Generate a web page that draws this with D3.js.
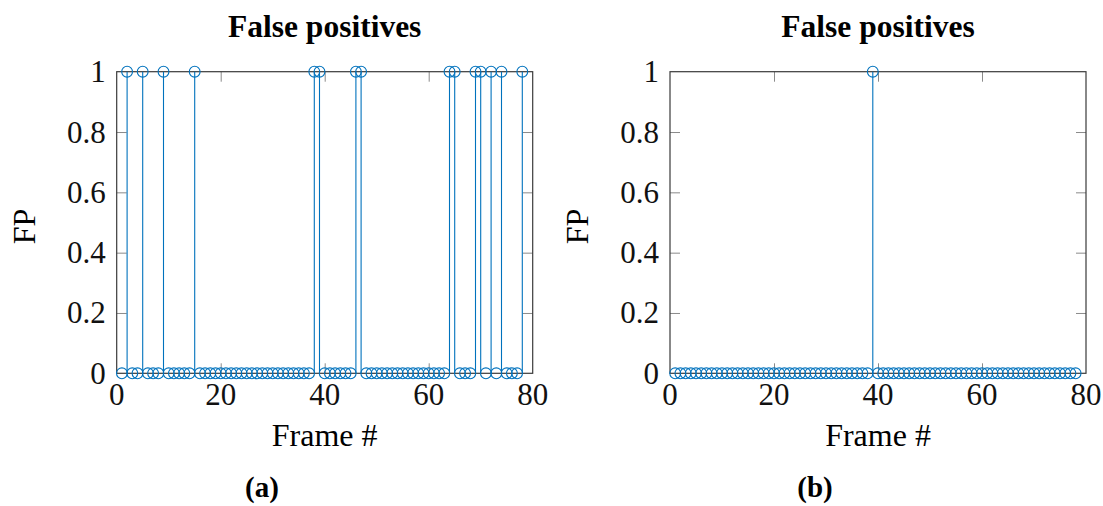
<!DOCTYPE html>
<html>
<head>
<meta charset="utf-8">
<script src="https://cdn.jsdelivr.net/npm/d3@7"></script>
<style>
  body { margin: 0; background: #fff; }
  svg { display: block; }
</style>
</head>
<body>
<script>
// false positive flag per frame, frame number = index + 1
var fpA = [0,1,0,0,1,0,0,0,1,0,
           0,0,0,0,1,0,0,0,0,0,
           0,0,0,0,0,0,0,0,0,0,
           0,0,0,0,0,0,0,1,1,0,
           0,0,0,0,0,1,1,0,0,0,
           0,0,0,0,0,0,0,0,0,0,
           0,0,0,1,1,0,0,0,1,1,
           0,1,0,1,0,0,0,1];
var fpB = [0,0,0,0,0,0,0,0,0,0,
           0,0,0,0,0,0,0,0,0,0,
           0,0,0,0,0,0,0,0,0,0,
           0,0,0,0,0,0,0,0,1,0,
           0,0,0,0,0,0,0,0,0,0,
           0,0,0,0,0,0,0,0,0,0,
           0,0,0,0,0,0,0,0,0,0,
           0,0,0,0,0,0,0,0];
var xTicks = [0, 20, 40, 60, 80];
var yTicks = [0, 0.2, 0.4, 0.6, 0.8, 1];
var yTickLabels = ["0", "0.2", "0.4", "0.6", "0.8", "1"];
var titles = ["False positives", "False positives"];
var captions = ["(a)", "(b)"];

var W = 1103, H = 506;
var svg = d3.select("body").append("svg").attr("width", W).attr("height", H);

var serif = "'Liberation Serif', 'Times New Roman', serif";
var blue = "#0072BD";

function StemChart(opt) {
    this.data = opt.data;
    this.x0 = opt.x0; this.x1 = opt.x1;
    this.y0 = opt.y0; this.y1 = opt.y1;
    this.title = opt.title;
    this.caption = opt.caption;
    this.capX = opt.capX;
    this.g = svg.append("g");
}

StemChart.prototype.chart = function () {
    var g = this.g;
    var x = d3.scaleLinear().domain([0, 80]).range([this.x0, this.x1]);
    var y = d3.scaleLinear().domain([0, 1]).range([this.y1, this.y0]);
    var tl = 10;

    // inward ticks on all four sides
    var axes = [
        { ax: d3.axisBottom(x).tickValues(xTicks.slice(1, -1)).tickSize(tl).tickFormat(""), t: "translate(0," + this.y1 + ")" },
        { ax: d3.axisTop(x).tickValues(xTicks.slice(1, -1)).tickSize(tl).tickFormat(""), t: "translate(0," + this.y0 + ")" },
        { ax: d3.axisLeft(y).tickValues(yTicks.slice(1, -1)).tickSize(tl).tickFormat(""), t: "translate(" + this.x0 + ",0)" },
        { ax: d3.axisRight(y).tickValues(yTicks.slice(1, -1)).tickSize(tl).tickFormat(""), t: "translate(" + this.x1 + ",0)" }
    ];
    axes.forEach(function (a) {
        var ag = g.append("g").attr("transform", a.t).call(a.ax);
        ag.select(".domain").remove();
        ag.selectAll(".tick line").attr("stroke", "#8a8a8a").attr("stroke-width", 1)
            .each(function () {
                var l = d3.select(this);
                if (l.attr("y2") != null && +l.attr("y2") !== 0) l.attr("y2", -l.attr("y2"));
                if (l.attr("x2") != null && +l.attr("x2") !== 0) l.attr("x2", -l.attr("x2"));
            });
    });

    // box
    g.append("rect")
        .attr("x", this.x0).attr("y", this.y0)
        .attr("width", this.x1 - this.x0).attr("height", this.y1 - this.y0)
        .attr("fill", "none").attr("stroke", "#3a3a3a").attr("stroke-width", 1.2);

    // tick labels
    g.selectAll(".xl").data(xTicks).enter().append("text")
        .attr("class", "xl")
        .attr("x", function (d) { return x(d); })
        .attr("y", this.y1 + 32)
        .attr("text-anchor", "middle")
        .style("font-family", serif).style("font-size", "31px").attr("fill", "#111")
        .text(function (d) { return d; });

    var x0 = this.x0;
    g.selectAll(".yl").data(yTicks).enter().append("text")
        .attr("class", "yl")
        .attr("x", x0 - 11)
        .attr("y", function (d) { return y(d) + 10.5; })
        .attr("text-anchor", "end")
        .style("font-family", serif).style("font-size", "31px").attr("fill", "#111")
        .text(function (d, i) { return yTickLabels[i]; });

    // stems
    var pts = this.data.map(function (v, i) { return { f: i + 1, v: v }; });
    g.selectAll(".stem").data(pts.filter(function (d) { return d.v !== 0; })).enter().append("line")
        .attr("class", "stem")
        .attr("x1", function (d) { return x(d.f); }).attr("x2", function (d) { return x(d.f); })
        .attr("y1", y(0)).attr("y2", function (d) { return y(d.v); })
        .attr("stroke", blue).attr("stroke-width", 1.1);

    g.selectAll(".mark").data(pts).enter().append("circle")
        .attr("class", "mark")
        .attr("cx", function (d) { return x(d.f); })
        .attr("cy", function (d) { return y(d.v); })
        .attr("r", 5.4)
        .attr("fill", "none").attr("stroke", blue).attr("stroke-width", 1.1);

    // labels
    var cx = (this.x0 + this.x1) / 2;
    g.append("text").attr("x", cx).attr("y", 37)
        .attr("text-anchor", "middle")
        .style("font-family", serif).style("font-size", "31.5px").style("font-weight", "bold")
        .text(this.title);

    g.append("text").attr("x", cx).attr("y", 446)
        .attr("text-anchor", "middle")
        .style("font-family", serif).style("font-size", "32px")
        .text("Frame #");

    var ly = (this.y0 + this.y1) / 2 + 4;
    g.append("text")
        .attr("transform", "translate(" + (this.x0 - 82) + "," + ly + ") rotate(-90)")
        .attr("text-anchor", "middle")
        .style("font-family", serif).style("font-size", "32px")
        .text("FP");

    g.append("text").attr("x", this.capX).attr("y", 497)
        .attr("text-anchor", "middle")
        .style("font-family", serif).style("font-size", "29px").style("font-weight", "bold")
        .text(this.caption);
};

new StemChart({ data: fpA, x0: 116.7, x1: 532.7, y0: 71.7, y1: 373.3, title: titles[0], caption: captions[0], capX: 262 }).chart();
new StemChart({ data: fpB, x0: 670, x1: 1086, y0: 71.7, y1: 373.3, title: titles[1], caption: captions[1], capX: 815 }).chart();
</script>
</body>
</html>
